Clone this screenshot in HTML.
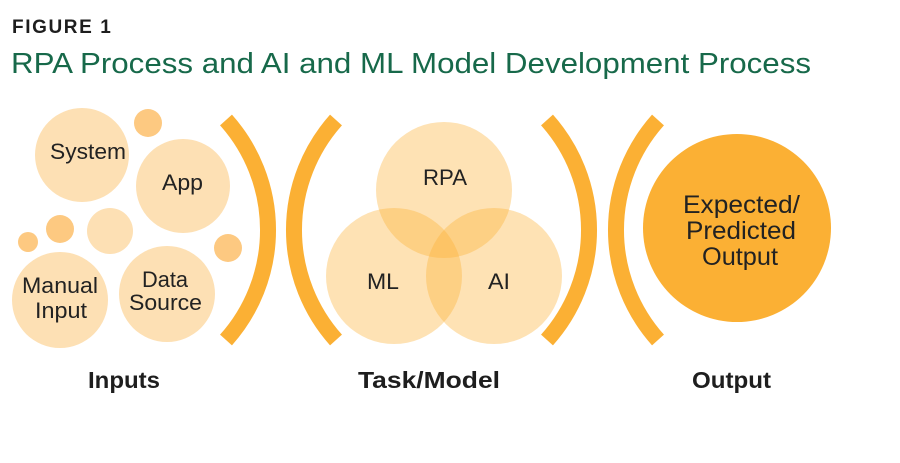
<!DOCTYPE html>
<html><head><meta charset="utf-8"><style>
html,body{margin:0;padding:0;background:#fff;}
svg{display:block;}
</style></head><body>
<svg width="900" height="463" viewBox="0 0 900 463" xmlns="http://www.w3.org/2000/svg" font-family="Liberation Sans, Arial, sans-serif">
<rect width="900" height="463" fill="#fff"/>
<text x="12" y="33" font-size="19" font-weight="bold" fill="#1e1e1e" letter-spacing="1.6">FIGURE 1</text>
<text x="11" y="73" font-size="29" fill="#17694a" textLength="800" lengthAdjust="spacingAndGlyphs">RPA Process and AI and ML Model Development Process</text>

<!-- inputs -->
<g fill="#FDE0B4">
<circle cx="82" cy="155" r="47"/>
<circle cx="183" cy="186" r="47"/>
<circle cx="110" cy="231" r="23"/>
<circle cx="60" cy="300" r="48"/>
<circle cx="167" cy="294" r="48"/>
</g>
<g fill="#FDC981">
<circle cx="148" cy="123" r="14"/>
<circle cx="28" cy="242" r="10"/>
<circle cx="60" cy="229" r="14"/>
<circle cx="228" cy="248" r="14"/>
</g>
<g font-size="22.5" fill="#222" lengthAdjust="spacingAndGlyphs">
<text x="50" y="159" textLength="76" lengthAdjust="spacingAndGlyphs">System</text>
<text x="162" y="190" textLength="41" lengthAdjust="spacingAndGlyphs">App</text>
<text x="22" y="293" textLength="76" lengthAdjust="spacingAndGlyphs">Manual</text>
<text x="35" y="318" textLength="52" lengthAdjust="spacingAndGlyphs">Input</text>
<text x="142" y="287" textLength="46" lengthAdjust="spacingAndGlyphs">Data</text>
<text x="129" y="310" textLength="73" lengthAdjust="spacingAndGlyphs">Source</text>
</g>

<!-- brackets -->
<g fill="none" stroke="#FBB034" stroke-width="16">
<path d="M226,120 A165,165 0 0 1 226,340"/>
<path d="M336,120 A165,165 0 0 0 336,340"/>
<path d="M547,120 A165,165 0 0 1 547,340"/>
<path d="M658,120 A165,165 0 0 0 658,340"/>
</g>

<!-- venn -->
<g fill="#FBB034" fill-opacity="0.37">
<circle cx="444" cy="190" r="68"/>
<circle cx="394" cy="276" r="68"/>
<circle cx="494" cy="276" r="68"/>
</g>
<g font-size="22.5" fill="#222">
<text x="423" y="185" textLength="44" lengthAdjust="spacingAndGlyphs">RPA</text>
<text x="367" y="289" textLength="32" lengthAdjust="spacingAndGlyphs">ML</text>
<text x="488" y="289" textLength="22" lengthAdjust="spacingAndGlyphs">AI</text>
</g>

<!-- output -->
<circle cx="737" cy="228" r="94" fill="#FBB034"/>
<g font-size="25" fill="#222">
<text x="683" y="213" textLength="117" lengthAdjust="spacingAndGlyphs">Expected/</text>
<text x="686" y="239" textLength="110" lengthAdjust="spacingAndGlyphs">Predicted</text>
<text x="702" y="265" textLength="76" lengthAdjust="spacingAndGlyphs">Output</text>
</g>

<g font-size="23" font-weight="bold" fill="#1e1e1e">
<text x="88" y="388" textLength="72" lengthAdjust="spacingAndGlyphs">Inputs</text>
<text x="358" y="388" textLength="142" lengthAdjust="spacingAndGlyphs">Task/Model</text>
<text x="692" y="388" textLength="79" lengthAdjust="spacingAndGlyphs">Output</text>
</g>
</svg>
</body></html>
